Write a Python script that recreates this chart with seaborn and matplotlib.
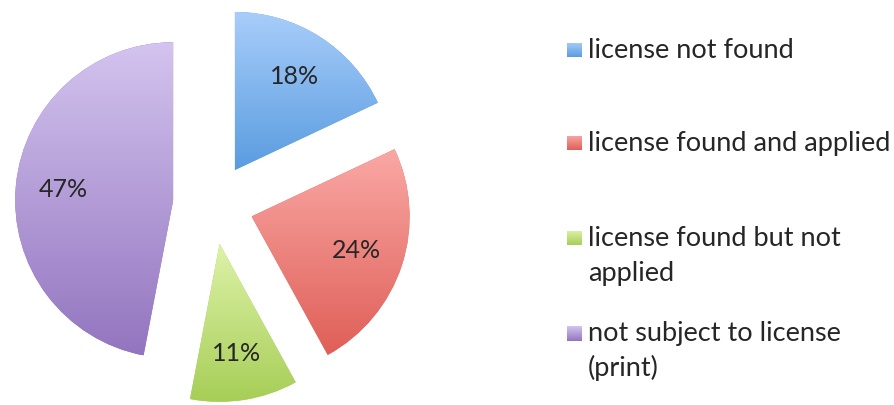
import numpy as np
import matplotlib
matplotlib.use("Agg")
import matplotlib.pyplot as plt
from matplotlib.colors import LinearSegmentedColormap
import seaborn as sns

labels = ["license not found", "license found and applied",
          "license found but not\napplied", "not subject to license\n(print)"]
shares = [18, 24, 11, 47]
tops = ["#a8cdfa", "#faa8a5", "#ddf2a8", "#d4c4ef"]
bottoms = ["#5a9ce0", "#df5f57", "#a7ce57", "#9375bf"]

sns.set_theme(style="white")
plt.rcParams["font.family"] = ["Lato", "DejaVu Sans"]

W, H = 894, 405
fig = plt.figure(figsize=(W / 100, H / 100), dpi=100)
# pie axes: center at (213, 204) px from top, radius 158 px
r_px = 158.0
cx, cy = 213.3, H - 204.0
ax = fig.add_axes([0, 0, 440 / W, 1])

wedges, texts, autotexts = ax.pie(
    shares, explode=[0.255] * 4, startangle=90, counterclock=False,
    autopct="%1.0f%%", pctdistance=0.7, radius=1,
    wedgeprops=dict(linewidth=0),
    textprops=dict(fontsize=18, color="#262626"),
)

# vertical gradient fill per wedge, like the original spreadsheet chart
grad = np.linspace(0, 1, 256).reshape(-1, 1)
for w, top, bot in zip(wedges, tops, bottoms):
    w.set_facecolor(bot)
    ext = w.get_path().get_extents()
    cmap = LinearSegmentedColormap.from_list("g", [bot, top])
    im = ax.imshow(grad, extent=[ext.x0, ext.x1, ext.y0, ext.y1], origin="lower",
                   cmap=cmap, aspect="auto", zorder=w.get_zorder() + 0.1,
                   interpolation="bilinear")
    im.set_clip_path(w)

for t in autotexts:
    t.set_zorder(5)

ax.set_xlim(-cx / r_px, (440 - cx) / r_px)
ax.set_ylim(-cy / r_px, (H - cy) / r_px)
ax.set_aspect("auto")
ax.axis("off")

# legend drawn by hand so the swatch sits on the first text line
rows = [50, 143, 238, 333]
line_gap = 35
for lab, y, top, bot in zip(labels, rows, tops, bottoms):
    sw = fig.add_axes([567 / W, 1 - (y + 7.5) / H, 15 / W, 15 / H])
    sw.imshow(grad, origin="lower", cmap=LinearSegmentedColormap.from_list("s", [bot, top]),
              aspect="auto", extent=[0, 1, 0, 1])
    sw.axis("off")
    for i, part in enumerate(lab.split("\n")):
        fig.text(588 / W, 1 - (y + i * line_gap) / H, part, fontsize=19.5,
                 color="#262626", va="center", ha="left")

fig.savefig("out.png", dpi=100)
